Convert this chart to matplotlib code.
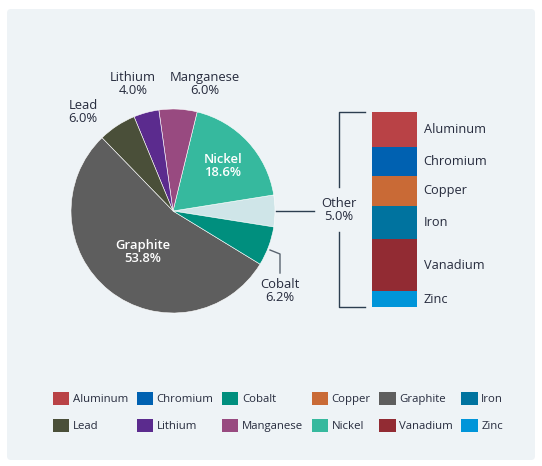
import matplotlib
matplotlib.use("Agg")
import matplotlib.pyplot as plt
from matplotlib.patches import Patch, FancyBboxPatch

# pie data (counterclockwise starting from "Other")
pie_labels = ["Other", "Nickel", "Manganese", "Lithium", "Lead", "Graphite", "Cobalt"]
pie_values = [5.0, 18.6, 6.0, 4.0, 6.0, 53.8, 6.2]

# breakdown of "Other" (top to bottom)
other_labels = ["Aluminum", "Chromium", "Copper", "Iron", "Vanadium", "Zinc"]
other_values = [0.9, 0.75, 0.75, 0.85, 1.35, 0.4]

colors = {
    "Aluminum": "#b94246", "Chromium": "#0061b1", "Cobalt": "#008f7e",
    "Copper": "#c96a36", "Graphite": "#5e5e5e", "Iron": "#00739f",
    "Lead": "#4a4f39", "Lithium": "#5b2b8e", "Manganese": "#984a80",
    "Nickel": "#36b99e", "Vanadium": "#922b33", "Zinc": "#0095d9",
    "Other": "#cfe5e8",
}
legend_order = ["Aluminum", "Chromium", "Cobalt", "Copper", "Graphite", "Iron",
                "Lead", "Lithium", "Manganese", "Nickel", "Vanadium", "Zinc"]

W, H = 542, 466
txt = "#262b3d"
line_c = "#2c3e50"
plt.rcParams["font.family"] = ["Open Sans", "DejaVu Sans"]

fig = plt.figure(figsize=(W / 100, H / 100), dpi=100)
fig.patch.set_facecolor("white")

def px_axes(x0, y0, x1, y1):
    return fig.add_axes([x0 / W, 1 - y1 / H, (x1 - x0) / W, (y1 - y0) / H])

# background panel
bg = px_axes(0, 0, W, H)
bg.set_xlim(0, W)
bg.set_ylim(H, 0)
bg.axis("off")
bg.add_patch(FancyBboxPatch((7, 9), 528, 451, boxstyle="round,pad=0,rounding_size=4",
                            fc="#eef3f6", ec="none"))

# pie
cx, cy, r = 173, 211, 102
pax = px_axes(cx - r, cy - r, cx + r, cy + r)
pax.pie(pie_values, colors=[colors[k] for k in pie_labels], startangle=-9,
        counterclock=True, radius=1,
        wedgeprops=dict(edgecolor="white", linewidth=0.4))
pax.set_xlim(-1, 1)
pax.set_ylim(-1, 1)
pax.set_aspect("auto")
pax.axis("off")

# stacked bar for "Other"
bax = px_axes(372, 112, 417, 307)
bottom = 0
for name, v in zip(other_labels, other_values):
    bax.bar(0, v, bottom=bottom, width=1, color=colors[name], linewidth=0)
    bax.text(0.65, bottom + v / 2, name, fontsize=9.2, color=txt,
             va="center", ha="left", transform=bax.transData)
    bottom += v
bax.set_xlim(-0.5, 0.5)
bax.set_ylim(sum(other_values), 0)
bax.axis("off")

# annotations in pixel coordinates
ov = px_axes(0, 0, W, H)
ov.set_xlim(0, W)
ov.set_ylim(H, 0)
ov.axis("off")
ov.patch.set_alpha(0)

fs = 9.4
kw = dict(fontsize=fs, ha="center", va="center", linespacing=1.0)
ov.text(83, 112, "Lead\n6.0%", color=txt, **kw)
ov.text(133, 84, "Lithium\n4.0%", color=txt, **kw)
ov.text(205, 84, "Manganese\n6.0%", color=txt, **kw)
ov.text(339, 210, "Other\n5.0%", color=txt, **kw)
ov.text(280, 291, "Cobalt\n6.2%", color=txt, **kw)
ov.text(223, 166, "Nickel\n18.6%", color="white", fontweight="semibold", **kw)
ov.text(143, 252, "Graphite\n53.8%", color="white", fontweight="semibold", **kw)

# leader lines
ov.plot([270, 280, 280], [250, 254, 273], color="#5a6470", lw=1)
ov.plot([276, 314], [211, 211], color=line_c, lw=1)
ov.plot([365, 339, 339], [112, 112, 187], color=line_c, lw=1)
ov.plot([339, 339, 365], [232, 307, 307], color=line_c, lw=1)

# legend (matplotlib fills column by column, so interleave the two rows)
ncol = 6
row_major = [legend_order[i::ncol] for i in range(ncol)]
handles = [Patch(facecolor=colors[k], edgecolor="none", label=k)
           for col in row_major for k in col]
fig.legend(handles=handles, ncol=ncol, loc="center", bbox_to_anchor=(278 / W, 1 - 412 / H),
           frameon=False, handlelength=1.45, handleheight=1.45,
           handletextpad=0.3, columnspacing=0.75, labelspacing=1.15, labelcolor=txt,
           prop=dict(size=8.2))

fig.savefig("out.png", dpi=100, facecolor=fig.get_facecolor())
